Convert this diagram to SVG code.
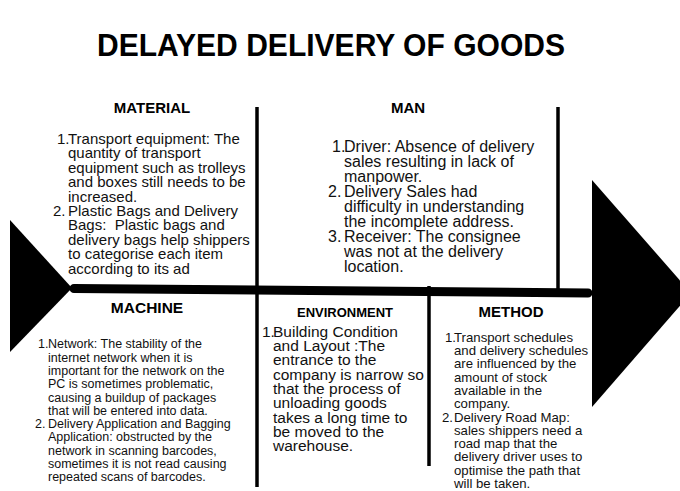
<svg xmlns="http://www.w3.org/2000/svg" width="680" height="491" viewBox="0 0 680 491">
  <style>
    .title { font-family: "Liberation Sans", Arial, sans-serif; font-weight: bold; font-size: 32px; fill: #000; }
    .head { font-family: "Liberation Sans", Arial, sans-serif; font-weight: bold; fill: #000; text-anchor: middle; }
    .body { font-family: "Liberation Sans", Arial, sans-serif; fill: #111; }
    .bone { stroke: #000; stroke-width: 3.5; fill: none; }
    .spine { stroke: #000; stroke-width: 9; stroke-linecap: round; fill: none; }
    .head-shape { fill: #000; }
  </style>
  <rect width="680" height="491" fill="#fff"/>

  <text class="title" x="331" y="56" text-anchor="middle" textLength="468" lengthAdjust="spacingAndGlyphs">DELAYED DELIVERY OF GOODS</text>

  <!-- fish skeleton: tail, spine, head and the category bones -->
  <g id="connectors">
    <polygon class="head-shape" points="10,220 72,288 10,352"/>
    <line class="spine" x1="74" y1="288.5" x2="588" y2="293"/>
    <polygon class="head-shape" points="592,180 691,293 592,407"/>
    <line class="bone" x1="257" y1="107" x2="257" y2="289"/>
    <line class="bone" x1="558" y1="107" x2="558" y2="292"/>
    <line class="bone" x1="257" y1="289" x2="257" y2="487"/>
    <line class="bone" x1="429" y1="286" x2="429" y2="466"/>
  </g>

  <g id="material">
    <text class="head" x="152" y="113" font-size="15">MATERIAL</text>
    <g class="body" font-size="15">
      <text x="57" y="144">1.</text>
      <text x="68" y="144">Transport equipment: The</text>
      <text x="68" y="158.4">quantity of transport</text>
      <text x="68" y="172.8">equipment such as trolleys</text>
      <text x="68" y="187.2">and boxes still needs to be</text>
      <text x="68" y="201.6">increased.</text>
      <text x="53" y="216">2.</text>
      <text x="68" y="216">Plastic Bags and Delivery</text>
      <text x="68" y="230.4" xml:space="preserve">Bags:  Plastic bags and</text>
      <text x="68" y="244.8">delivery bags help shippers</text>
      <text x="68" y="259.2">to categorise each item</text>
      <text x="68" y="273.6">according to its ad</text>
    </g>
  </g>

  <g id="man">
    <text class="head" x="408" y="113" font-size="15">MAN</text>
    <g class="body" font-size="16">
      <text x="332" y="151.7">1.</text>
      <text x="344" y="151.7">Driver: Absence of delivery</text>
      <text x="344" y="166.7">sales resulting in lack of</text>
      <text x="344" y="181.7">manpower.</text>
      <text x="328" y="196.7">2.</text>
      <text x="344" y="196.7">Delivery Sales had</text>
      <text x="344" y="211.7">difficulty in understanding</text>
      <text x="344" y="226.7">the incomplete address.</text>
      <text x="328" y="241.7">3.</text>
      <text x="344" y="241.7">Receiver: The consignee</text>
      <text x="344" y="256.7">was not at the delivery</text>
      <text x="344" y="271.7">location.</text>
    </g>
  </g>

  <g id="machine">
    <text class="head" x="147" y="313" font-size="15.5">MACHINE</text>
    <g class="body" font-size="12.5">
      <text x="38" y="348.3">1.</text>
      <text x="48" y="348.3">Network: The stability of the</text>
      <text x="48" y="361.6">internet network when it is</text>
      <text x="48" y="374.9">important for the network on the</text>
      <text x="48" y="388.2">PC is sometimes problematic,</text>
      <text x="48" y="401.5">causing a buildup of packages</text>
      <text x="48" y="414.8">that will be entered into data.</text>
      <text x="35" y="428.1">2.</text>
      <text x="48" y="428.1">Delivery Application and Bagging</text>
      <text x="48" y="441.4">Application: obstructed by the</text>
      <text x="48" y="454.7">network in scanning barcodes,</text>
      <text x="48" y="468">sometimes it is not read causing</text>
      <text x="48" y="481.3">repeated scans of barcodes.</text>
    </g>
  </g>

  <g id="environment">
    <text class="head" x="345" y="317" font-size="13">ENVIRONMENT</text>
    <g class="body" font-size="15.5">
      <text x="262" y="336.7">1.</text>
      <text x="273" y="336.7">Building Condition</text>
      <text x="273" y="351">and Layout :The</text>
      <text x="273" y="365.3">entrance to the</text>
      <text x="273" y="379.6">company is narrow so</text>
      <text x="273" y="393.9">that the process of</text>
      <text x="273" y="408.2">unloading goods</text>
      <text x="273" y="422.5">takes a long time to</text>
      <text x="273" y="436.8">be moved to the</text>
      <text x="273" y="451.1">warehouse.</text>
    </g>
  </g>

  <g id="method">
    <text class="head" x="511" y="317" font-size="15">METHOD</text>
    <g class="body" font-size="13.2">
      <text x="445" y="341.7">1.</text>
      <text x="454" y="341.7">Transport schedules</text>
      <text x="454" y="355">and delivery schedules</text>
      <text x="454" y="368.3">are influenced by the</text>
      <text x="454" y="381.6">amount of stock</text>
      <text x="454" y="394.9">available in the</text>
      <text x="454" y="408.2">company.</text>
      <text x="442" y="421.5">2.</text>
      <text x="454" y="421.5">Delivery Road Map:</text>
      <text x="454" y="434.8">sales shippers need a</text>
      <text x="454" y="448.1">road map that the</text>
      <text x="454" y="461.4">delivery driver uses to</text>
      <text x="454" y="474.7">optimise the path that</text>
      <text x="454" y="487.5">will be taken.</text>
    </g>
  </g>
</svg>
